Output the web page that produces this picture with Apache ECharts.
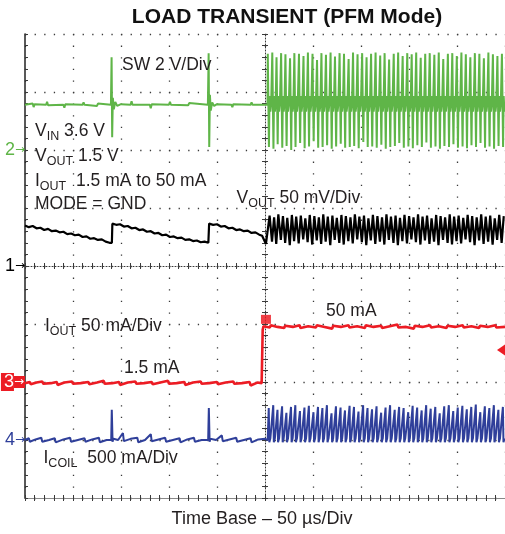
<!DOCTYPE html>
<html>
<head>
<meta charset="utf-8">
<script src="https://cdn.jsdelivr.net/npm/echarts/dist/echarts.min.js"></script>
<style>
html,body{margin:0;padding:0;background:#fff;}
#chart{width:505px;height:534px;}
</style>
</head>
<body>
<div id="chart"></div>
<script>
// ---------------- data (time in µs, vertical in divisions) ----------------
const timeMin = 0, timeMax = 500, timeDiv = 50;
const divMin = 0, divMax = 8, divStep = 1;

// channel ground markers (division level, channel name)
const markerLevels = [6, 4, 2, 1];
const markerNames = ['2', '1', '3', '4'];

// idle levels
const swIdle = 6.78;
const coilIdle = 1.0;
const triggerLevel = 2.55;
const triggerTime = 251;
const triggerMark = 3.08;

// switching events after the load step (µs)
const pulseTimes = [252.6, 257.3, 261.7, 266.5, 271.0, 275.8, 280.3, 285.1, 289.8, 294.4,
  299.2, 303.9, 308.5, 313.2, 318.0, 322.6, 327.4, 332.0, 336.8, 341.4,
  346.1, 350.9, 355.5, 360.2, 364.9, 369.7, 374.3, 379.0, 383.8, 388.4,
  393.1, 397.9, 402.5, 407.2, 411.9, 416.6, 421.3, 426.1, 430.7, 435.4,
  440.2, 444.8, 449.5, 454.3, 458.9, 463.6, 468.3, 473.0, 477.7, 482.4,
  487.1, 491.8, 496.5];

// SW node (green)
const swHigh = [7.66, 7.68, 7.60, 7.67, 7.65, 7.58, 7.67, 7.66, 7.62, 7.68, 7.66, 7.55, 7.67, 7.64, 7.68, 7.61, 7.67, 7.66,
  7.57, 7.68, 7.65, 7.67, 7.60, 7.66, 7.68, 7.63, 7.67, 7.56, 7.66, 7.68, 7.62, 7.67, 7.65, 7.68, 7.59, 7.66, 7.67, 7.64,
  7.68, 7.57, 7.66, 7.67, 7.62, 7.68, 7.65, 7.60, 7.67, 7.66, 7.58, 7.68, 7.65, 7.62, 7.66];
const swLow = [6.05, 6.02, 6.10, 6.04, 6.07, 6.00, 6.05, 6.12, 6.03, 6.06, 6.15, 6.04, 6.05, 6.08, 6.02, 6.06, 6.11, 6.04,
  6.05, 6.07, 6.03, 6.14, 6.05, 6.06, 6.04, 6.09, 6.02, 6.05, 6.07, 6.12, 6.04, 6.06, 6.03, 6.08, 6.05, 6.13, 6.04, 6.06,
  6.02, 6.07, 6.05, 6.10, 6.04, 6.06, 6.03, 6.08, 6.05, 6.12, 6.04, 6.06, 6.02, 6.07, 6.05];
const swBefore = [[0, 6.78], [8, 6.80], [9, 6.74], [10, 6.79], [22, 6.78], [23, 6.83], [24, 6.77], [40, 6.78], [41, 6.73],
  [42, 6.79], [60, 6.78], [61, 6.82], [62, 6.78], [75, 6.76], [76, 6.80], [89.5, 6.78], [90.2, 7.60], [90.8, 6.22],
  [91.5, 6.90], [92.5, 6.70], [94, 6.83], [96, 6.76], [100, 6.79], [110, 6.78], [111, 6.84], [112, 6.78], [130, 6.78],
  [131, 6.72], [132, 6.79], [150, 6.78], [151, 6.83], [152, 6.78], [170, 6.77], [171, 6.81], [172, 6.78], [190.5, 6.78],
  [191.3, 7.67], [191.9, 6.05], [192.6, 6.95], [193.5, 6.68], [195, 6.82], [197, 6.76], [200, 6.79], [215, 6.78],
  [216, 6.74], [217, 6.79], [235, 6.78], [236, 6.82], [237, 6.78], [249, 6.78], [251, 6.80]];

// VOUT (black)
const voutBefore = [[0, 4.70], [4, 4.67], [8, 4.69], [12, 4.65], [16, 4.66], [20, 4.62], [24, 4.64], [28, 4.60], [32, 4.61],
  [36, 4.58], [40, 4.59], [44, 4.55], [48, 4.56], [52, 4.53], [56, 4.54], [60, 4.50], [64, 4.51], [68, 4.47], [72, 4.48],
  [76, 4.45], [80, 4.46], [84, 4.42], [88, 4.40], [90.5, 4.40], [91, 4.73], [95, 4.71], [99, 4.72], [103, 4.68],
  [107, 4.69], [111, 4.65], [115, 4.66], [119, 4.62], [123, 4.63], [127, 4.59], [131, 4.60], [135, 4.56], [139, 4.57],
  [143, 4.53], [147, 4.54], [151, 4.50], [155, 4.51], [159, 4.48], [163, 4.49], [167, 4.45], [171, 4.46], [175, 4.43],
  [179, 4.44], [183, 4.41], [187, 4.42], [191, 4.40], [191.8, 4.73], [196, 4.71], [200, 4.72], [204, 4.68], [208, 4.69],
  [212, 4.65], [216, 4.66], [220, 4.62], [224, 4.63], [228, 4.60], [232, 4.61], [236, 4.57], [240, 4.58], [244, 4.54],
  [247, 4.52], [249, 4.50], [251, 4.38]];
const voutHigh = [4.87, 4.84, 4.89, 4.86, 4.83, 4.88, 4.85, 4.87, 4.82, 4.88, 4.86, 4.84, 4.89, 4.85, 4.87, 4.83, 4.88, 4.86,
  4.84, 4.89, 4.85, 4.87, 4.82, 4.88, 4.86, 4.84, 4.89, 4.85, 4.87, 4.83, 4.88, 4.86, 4.84, 4.89, 4.85, 4.87, 4.82, 4.88,
  4.86, 4.84, 4.89, 4.85, 4.87, 4.83, 4.88, 4.86, 4.84, 4.89, 4.85, 4.87, 4.82, 4.88, 4.86];
const voutLow = [4.36, 4.42, 4.38, 4.45, 4.40, 4.36, 4.43, 4.39, 4.46, 4.41, 4.37, 4.44, 4.38, 4.42, 4.36, 4.45, 4.40, 4.37,
  4.43, 4.39, 4.46, 4.41, 4.36, 4.44, 4.38, 4.42, 4.37, 4.45, 4.40, 4.36, 4.43, 4.39, 4.46, 4.41, 4.37, 4.44, 4.38, 4.42,
  4.36, 4.45, 4.40, 4.37, 4.43, 4.39, 4.46, 4.41, 4.36, 4.44, 4.38, 4.42, 4.37, 4.45, 4.40];

// IOUT (red)
const ioutTrace = [[0, 1.98], [5, 2.00], [6, 1.96], [12, 1.99], [18, 2.01], [19, 1.97], [27, 1.98], [33, 2.00], [34, 1.95],
  [41, 1.99], [49, 2.01], [50, 1.97], [58, 1.98], [66, 2.00], [67, 1.96], [75, 1.99], [82, 2.02], [83, 1.97], [91, 1.98],
  [98, 2.00], [99, 1.95], [107, 1.99], [115, 2.01], [116, 1.97], [124, 1.98], [132, 2.00], [133, 1.96], [141, 1.99],
  [149, 2.02], [150, 1.97], [158, 1.98], [166, 2.00], [167, 1.95], [175, 1.99], [183, 2.01], [184, 1.97], [192, 1.98],
  [200, 2.00], [201, 1.96], [209, 1.99], [217, 2.01], [218, 1.97], [226, 1.98], [234, 2.00], [235, 1.94], [242, 1.99],
  [246.5, 1.98], [247.6, 2.90], [248.4, 2.96], [255, 2.94], [256, 2.98], [263, 2.95], [270, 2.93], [271, 2.97],
  [279, 2.95], [286, 2.98], [287, 2.93], [295, 2.96], [303, 2.94], [304, 2.98], [312, 2.95], [320, 2.92], [321, 2.97],
  [329, 2.95], [337, 2.98], [338, 2.94], [346, 2.96], [354, 2.93], [355, 2.98], [363, 2.95], [371, 2.97], [372, 2.93],
  [380, 2.96], [388, 2.99], [389, 2.94], [397, 2.95], [405, 2.92], [406, 2.97], [414, 2.95], [422, 2.98], [423, 2.94],
  [431, 2.96], [439, 2.93], [440, 2.97], [448, 2.95], [456, 2.98], [457, 2.94], [465, 2.96], [473, 2.93], [474, 2.97],
  [482, 2.95], [490, 2.98], [491, 2.94], [500, 2.95]];

// ICOIL (blue)
const coilBefore = [[0, 1.00], [4, 1.03], [5, 0.97], [11, 1.01], [17, 1.04], [18, 0.97], [25, 1.00], [31, 1.03], [32, 0.96],
  [40, 1.01], [47, 1.04], [48, 0.97], [55, 1.00], [62, 1.03], [63, 0.97], [70, 1.01], [77, 1.04], [78, 0.96], [85, 1.00],
  [89.8, 1.00], [90.4, 1.52], [91.2, 0.97], [92, 1.02], [97, 1.00], [102, 1.12], [103, 0.98], [110, 1.02], [117, 1.04],
  [118, 0.96], [125, 1.00], [131, 1.10], [132, 0.98], [139, 1.01], [146, 1.04], [147, 0.97], [154, 1.00], [161, 1.03],
  [162, 0.96], [169, 1.01], [176, 1.04], [177, 0.97], [184, 1.00], [190.8, 1.00], [191.5, 1.55], [192.3, 0.97],
  [193, 1.02], [199, 1.00], [205, 1.08], [206, 0.98], [213, 1.01], [220, 1.04], [221, 0.97], [228, 1.00], [235, 1.03],
  [236, 0.96], [243, 1.01], [250, 1.02]];
const coilPeak = [1.55, 1.60, 1.52, 1.58, 1.47, 1.57, 1.60, 1.50, 1.56, 1.59, 1.48, 1.57, 1.55, 1.60, 1.46, 1.58, 1.56, 1.51,
  1.59, 1.57, 1.49, 1.60, 1.55, 1.53, 1.58, 1.47, 1.56, 1.60, 1.52, 1.57, 1.55, 1.48, 1.59, 1.56, 1.51, 1.60, 1.54, 1.57,
  1.46, 1.58, 1.60, 1.50, 1.56, 1.59, 1.53, 1.57, 1.61, 1.48, 1.58, 1.55, 1.60, 1.52, 1.57];

// ---------------- build traces ----------------
const swData = swBefore.slice();
pulseTimes.forEach((t, i) => {
  swData.push([t, swIdle], [t + 0.3, swHigh[i]], [t + 0.9, swIdle + 0.05], [t + 1.5, swLow[i]],
    [t + 2.1, swIdle + 0.15], [t + 3.0, swIdle - 0.12], [t + 3.8, swIdle]);
});
const voutData = voutBefore.slice();
pulseTimes.forEach((t, i) => {
  voutData.push([t, voutLow[i]], [t + 2.2, voutHigh[i]]);
});
const coilData = coilBefore.slice();
pulseTimes.forEach((t, i) => {
  coilData.push([t + 0.2, coilIdle], [t + 1.3, coilPeak[i]], [t + 1.9, coilIdle - 0.04], [t + 3.0, coilIdle + 0.03]);
});

// ---------------- style ----------------
const C = { green: '#5fb548', red: '#ec1c24', blue: '#2f3f9a', black: '#000000', text: '#231f20', grid: '#3a3a3a' };
const FONT = '"Liberation Sans", Arial, Helvetica, sans-serif';
const ARROWFONT = '"DejaVu Sans", "Liberation Sans", sans-serif';

const chart = echarts.init(document.getElementById('chart'), null, { renderer: 'canvas' });

function frameX(extra) {
  return Object.assign({
    type: 'value', min: timeMin, max: timeMax, interval: timeDiv,
    axisLabel: { show: false }, splitLine: { show: false },
    minorTick: { show: true, splitNumber: 5, length: 3, lineStyle: { color: C.grid } },
    axisTick: { show: true, inside: true, length: 3, lineStyle: { color: C.grid } }
  }, extra);
}
function frameY(extra) {
  return Object.assign({
    type: 'value', min: divMin, max: divMax, interval: divStep,
    axisLabel: { show: false }, splitLine: { show: false },
    minorTick: { show: true, splitNumber: 5, length: 3, lineStyle: { color: C.grid } },
    axisTick: { show: true, inside: true, length: 3, lineStyle: { color: C.grid } }
  }, extra);
}

const sub = { fontSize: 12.5, lineHeight: 13, verticalAlign: 'top', padding: [8, 0, 0, 0], fontFamily: FONT, fill: C.text, color: C.text };
const nrm = { fontSize: 17.5, lineHeight: 18, verticalAlign: 'top', fontFamily: FONT, fill: C.text, color: C.text };
const big = { fontSize: 18, lineHeight: 18, verticalAlign: 'top', fontFamily: FONT, fill: C.text, color: C.text };
function note(x, y, text, align) {
  return {
    type: 'text', x: x, y: y, z: 50,
    style: { text: text, rich: { n: nrm, s: sub, b: big }, align: align || 'left', verticalAlign: 'top', fill: C.text, font: '17.5px ' + FONT }
  };
}
function markerStyle(color, bg) {
  const d = { color: color, fontSize: 18, fontFamily: FONT, lineHeight: 16 };
  const a = { color: color, fontSize: 12, fontFamily: ARROWFONT, lineHeight: 16 };
  if (bg) {
    d.backgroundColor = bg; d.padding = [0, 0, 0, 3];
    a.backgroundColor = bg; a.padding = [0, 1, 0, 0];
  }
  return [d, a];
}
const m2 = markerStyle(C.green), m1 = markerStyle(C.black), m3 = markerStyle('#fff', C.red), m4 = markerStyle(C.blue);

const option = {
  animation: false,
  backgroundColor: '#ffffff',
  grid: { left: 25, top: 34, width: 480, height: 464, containLabel: false, outerBoundsMode: 'none' },
  xAxis: [
    frameX({ position: 'bottom', axisLine: { show: true, lineStyle: { color: '#444', width: 1.2 } },
      splitLine: { show: true, lineStyle: { color: C.grid, width: 1.3, type: [1.3, 10.3] } } }),
    frameX({ position: 'top', axisLine: { show: true, lineStyle: { color: '#888', width: 1 } } }),
    frameX({ position: 'top', offset: -232, axisLine: { show: true, lineStyle: { color: C.grid, width: 1, type: [1, 2] } } }),
    frameX({ position: 'top', offset: -232, axisLine: { show: false },
      axisTick: { show: true, inside: false, length: 3, lineStyle: { color: C.grid } } })
  ],
  yAxis: [
    frameY({ position: 'left', axisLine: { show: true, lineStyle: { color: '#222', width: 1.5 } },
      splitLine: { show: true, lineStyle: { color: C.grid, width: 1.3, type: [1.3, 8.3] } },
      axisLabel: {
        show: true, margin: 0,
        formatter: function (v) {
          const k = markerLevels.indexOf(v);
          if (k < 0) return '';
          const n = markerNames[k];
          return '{c' + n + '|' + n + '}{a' + n + '|→}';
        },
        rich: { c2: m2[0], a2: m2[1], c1: m1[0], a1: m1[1], c3: m3[0], a3: m3[1], c4: m4[0], a4: m4[1] }
      } }),
    frameY({ position: 'left', offset: -240, axisLine: { show: true, lineStyle: { color: C.grid, width: 1, type: [1, 2] } } }),
    frameY({ position: 'left', offset: -240, axisLine: { show: false },
      axisTick: { show: true, inside: false, length: 3, lineStyle: { color: C.grid } } })
  ],
  series: [
    { name: 'SW', type: 'line', data: swData, showSymbol: false, z: 3,
      lineStyle: { color: C.green, width: 2 }, itemStyle: { color: C.green } },
    { name: 'VOUT', type: 'line', data: voutData, showSymbol: false, z: 4,
      lineStyle: { color: C.black, width: 2.2 }, itemStyle: { color: C.black } },
    { name: 'IOUT', type: 'line', data: ioutTrace, showSymbol: false, z: 5,
      lineStyle: { color: C.red, width: 2.6 }, itemStyle: { color: C.red },
      markPoint: { silent: true, label: { show: false }, data: [
        { coord: [timeMax, triggerLevel], symbol: 'triangle', symbolRotate: 90, symbolSize: [11, 8], symbolOffset: [-4, 0], itemStyle: { color: C.red } },
        { coord: [triggerTime, triggerMark], symbol: 'rect', symbolSize: [10, 9], itemStyle: { color: C.red, opacity: 0.85 } }
      ] } },
    { name: 'ICOIL', type: 'line', data: coilData, showSymbol: false, z: 6,
      lineStyle: { color: C.blue, width: 2 }, itemStyle: { color: C.blue } }
  ],
  graphic: [
    { type: 'text', x: 287, y: 6, z: 50,
      style: { text: 'LOAD TRANSIENT (PFM Mode)', align: 'center', verticalAlign: 'top', fill: '#111',
        font: 'bold 21px ' + FONT, lineHeight: 22 } },
    note(122, 56, '{n|SW 2 V/Div}'),
    note(35, 122, '{n|V}{s|IN}{n| 3.6 V}'),
    note(35, 147, '{n|V}{s|OUT}{n| 1.5 V}'),
    note(35, 172, '{n|I}{s|OUT}{n|  1.5 mA to 50 mA}'),
    note(35, 195.5, '{n|MODE = GND}'),
    note(236.5, 189, '{n|V}{s|OUT}{n| 50 mV/Div}'),
    note(45, 317, '{n|I}{s|OUT}{n| 50 mA/Div}'),
    note(124, 359, '{n|1.5 mA}'),
    note(326, 302, '{n|50 mA}'),
    note(43.5, 449, '{n|I}{s|COIL}{n|  500 mA/Div}'),
    note(262, 510, '{b|Time Base – 50 µs/Div}', 'center')
  ]
};
chart.setOption(option);
</script>
</body>
</html>
